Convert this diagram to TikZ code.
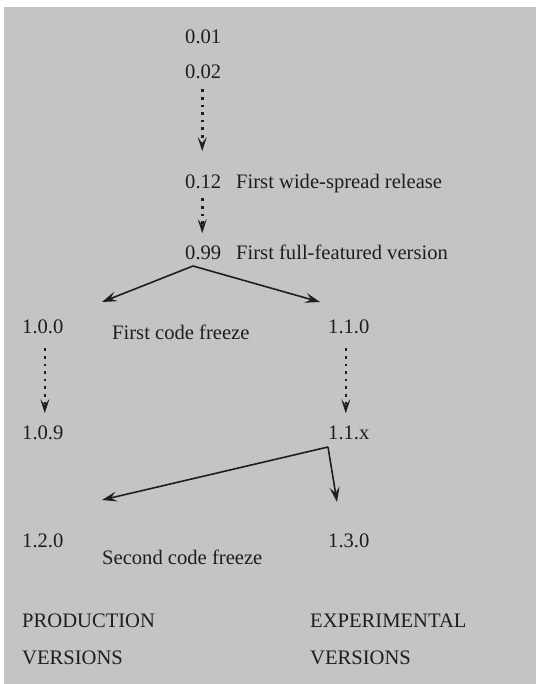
\documentclass[tikz,border=0pt]{standalone}
\usepackage{fontspec}
\setmainfont{Liberation Serif}
\usetikzlibrary{arrows.meta,calc}
\definecolor{panel}{RGB}{196,196,196}
\definecolor{ink}{RGB}{30,30,30}
\begin{document}
\begin{tikzpicture}[x=1pt,y=-1pt,
  lbl/.style={anchor=base west,inner sep=0pt,text=ink,font=\fontsize{20.6}{24}\selectfont},
  ver/.style={lbl},
  solidarrow/.style={draw=ink,line width=1.6pt,-{Stealth[length=15pt,width=10pt,inset=6pt]}},
  dotarrow/.style={draw=ink,line width=2.6pt,dash pattern=on 2.6pt off 5pt,
    -{Stealth[length=14pt,width=9pt,inset=6pt,line width=0.6pt]}}]
  \useasboundingbox (0,0) rectangle (539,684);
  \fill[white] (0,0) rectangle (539,684);
  \fill[panel] (4,7) rectangle (536,684);

  % version numbers along the main line
  \node[ver] (v001) at (185,44) {0.01};
  \node[ver] (v002) at (185,79) {0.02};
  \node[ver] (v012) at (185,189) {0.12};
  \node[ver] (v099) at (185,259) {0.99};
  \node[lbl] (n012) at (236,189) {First wide-spread release};
  \node[lbl] (n099) at (236,259) {First full-featured version};

  % production branch
  \node[ver] (v100) at (22,333) {1.0.0};
  \node[ver] (v109) at (22,439) {1.0.9};
  \node[ver] (v120) at (22,547) {1.2.0};
  \node[lbl] (ncf1) at (112,339) {First code freeze};
  \node[lbl] (ncf2) at (102,564) {Second code freeze};

  % experimental branch
  \node[ver] (v110) at (328,333) {1.1.0};
  \node[ver] (v11x) at (328,439) {1.1.x};
  \node[ver] (v130) at (328,547) {1.3.0};

  % column headings
  \node[lbl] (prod1) at (22,627) {PRODUCTION};
  \node[lbl] (prod2) at (22,664) {VERSIONS};
  \node[lbl] (exp1) at (310,627) {EXPERIMENTAL};
  \node[lbl] (exp2) at (310,664) {VERSIONS};

  % fork points and free arrow ends
  \coordinate (fork1) at (193,266);
  \coordinate (tipprod1) at (102,302);
  \coordinate (tipexp1) at (320,302);
  \coordinate (fork2) at (328,447);
  \coordinate (tipprod2) at (102,500);
  \coordinate (tipexp2) at (337,502);

  % dotted progressions within a line
  \draw[dotarrow] ($(v002.south)+(-1,10)$) -- ($(v012.north)+(-1,-24)$);
  \draw[dotarrow] ($(v012.south)+(-1,9)$) -- ($(v099.north)+(-1,-12)$);
  \draw[dotarrow] ($(v100.south)+(2,15)$) -- ($(v109.north)+(2,-12)$);
  \draw[dotarrow] ($(v110.south)+(-3,15)$) -- ($(v11x.north)+(-3,-12)$);

  % branchings
  \draw[solidarrow] (fork1) -- (tipprod1);
  \draw[solidarrow] (fork1) -- (tipexp1);
  \draw[solidarrow] (fork2) -- (tipprod2);
  \draw[solidarrow] (fork2) -- (tipexp2);
\end{tikzpicture}
\end{document}
